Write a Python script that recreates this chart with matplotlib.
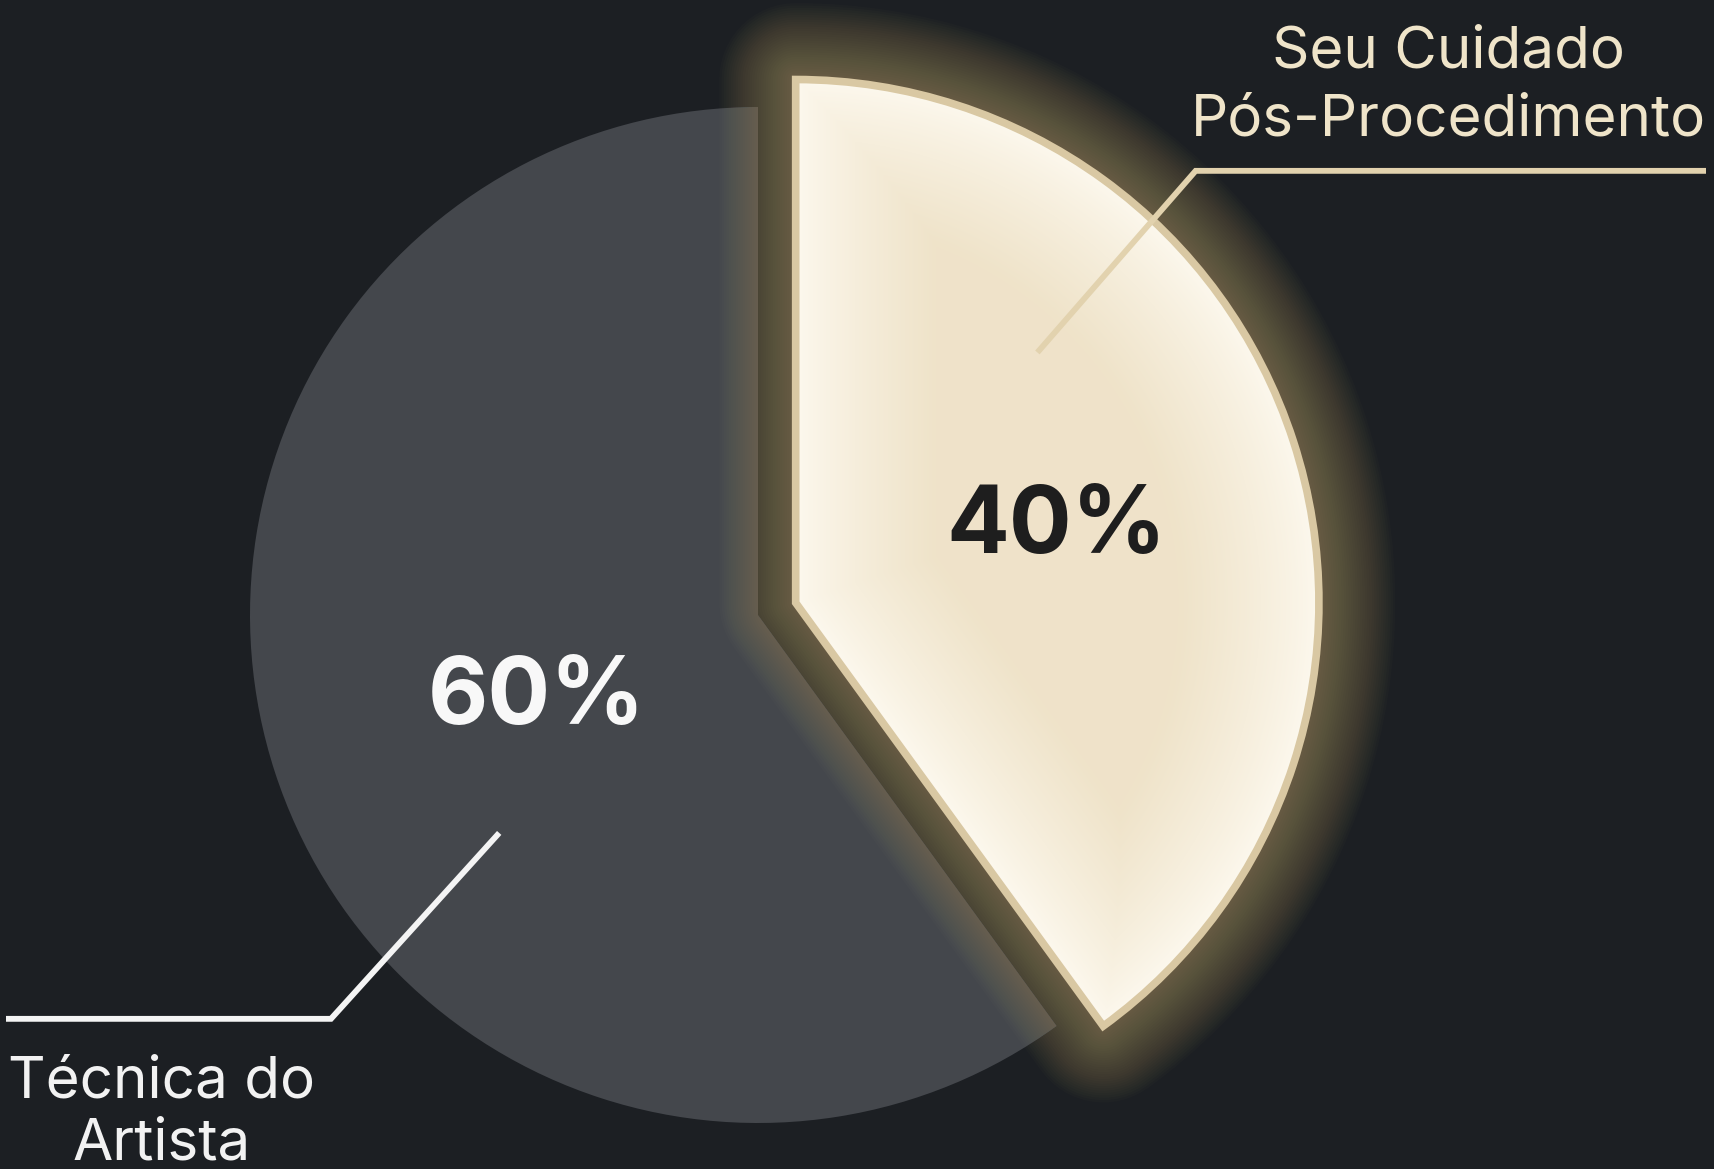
import numpy as np
import matplotlib.pyplot as plt
from matplotlib.patches import Wedge
from matplotlib.colors import to_rgb

# data
labels = ['Seu Cuidado\nPós-Procedimento', 'Técnica do\nArtista']
shares = [40, 60]
pct_labels = ['40%', '60%']

W, H = 1714, 1169
bg = '#1c1f23'
plt.rcParams['font.family'] = ['Inter', 'DejaVu Sans']

fig = plt.figure(figsize=(W / 100, H / 100), dpi=100, facecolor=bg)
ax = fig.add_axes([0, 0, 1, 1])
ax.set_facecolor(bg)

R = 508
center = (758, H - 615)
# explode is in data units here (pixels)
wedges, _ = ax.pie(shares, radius=R, center=center, startangle=90,
                   counterclock=False, explode=[0.078 * R, 0],
                   colors=['#efe2c7', '#44474c'],
                   wedgeprops=dict(linewidth=0))

light, dark = wedges
dark.set_zorder(1)
light.set_radius(R * 1.03)
light.set_zorder(3)
c0, r0, t1, t2 = light.center, light.r, light.theta1, light.theta2

# outer glow round the light slice, soft falloff
for w in np.linspace(110, 6, 32):
    ax.add_patch(Wedge(c0, r0, t1, t2, facecolor='none', edgecolor='#bca678',
                       linewidth=w, alpha=0.023, zorder=2, joinstyle='round'))

# fill: bright rim fading to beige in the middle (distance to the slice border)
x0, x1 = c0[0] - 10, c0[0] + r0 + 10
y0, y1 = c0[1] - r0 - 10, c0[1] + r0 + 10
gx, gy = np.meshgrid(np.arange(x0, x1), np.arange(y0, y1))
px, py = gx - c0[0], gy - c0[1]
dist = r0 - np.hypot(px, py)
for th in (t1, t2):
    ux, uy = np.cos(np.radians(th)), np.sin(np.radians(th))
    along = px * ux + py * uy
    perp = np.abs(px * uy - py * ux)
    d_edge = np.where(along > 0, perp, np.hypot(px, py))
    dist = np.minimum(dist, d_edge)
k = np.clip(dist / 140.0, 0, 1) ** 0.8
rim, mid = np.array(to_rgb('#fdf9ef')), np.array(to_rgb('#efe3c9'))
img = rim[None, None, :] * (1 - k[..., None]) + mid[None, None, :] * k[..., None]
im = ax.imshow(img, extent=(x0, x1, y0, y1), origin='lower', zorder=3.1,
               interpolation='bilinear')
im.set_clip_path(light)

ax.add_patch(Wedge(c0, r0, t1, t2, facecolor='none', edgecolor='#d9c8a3',
                   linewidth=5.5, zorder=3.2, joinstyle='miter'))

ax.set_xlim(0, W)
ax.set_ylim(0, H)
ax.set_aspect('auto')
ax.axis('off')


def polar(c, r, ang):
    a = np.radians(ang)
    return c[0] + r * np.cos(a), c[1] + r * np.sin(a)


fs_pct = 67
cap_pct = 0.727 * fs_pct * 100 / 72
fs_lab = 42

# percentage labels
pct_pos = [(c0, r0 * 0.523, 17.8, '#1e1e1e'), (center, R * 0.461, 198.7, '#f8f8f8')]
for txt, (c, r, a, col) in zip(pct_labels, pct_pos):
    x, y = polar(c, r, a)
    ax.text(x, y - cap_pct / 2, txt, ha='center', va='baseline', fontsize=fs_pct,
            fontweight='bold', color=col, zorder=5)

# leader lines and category labels
leaders = [
    dict(c=c0, a_in=46.0, r_in=r0 * 0.665, a_out=47.2, r_out=r0 * 1.125, x_end=W - 8,
         col='#e2d2ae', tx=1448, base=[H - 67, H - 135], tcol='#efe4c9'),
    dict(c=center, a_in=220.1, r_in=R * 0.666, a_out=223.4, r_out=R * 1.157, x_end=6,
         col='#f4f4f4', tx=162, base=[H - 1097, H - 1160], tcol='#f2f2f2'),
]
for lab, d in zip(labels, leaders):
    xi, yi = polar(d['c'], d['r_in'], d['a_in'])
    xo, yo = polar(d['c'], d['r_out'], d['a_out'])
    ax.plot([xi, xo, d['x_end']], [yi, yo, yo], color=d['col'], lw=4.2,
            solid_joinstyle='miter', solid_capstyle='butt', zorder=6)
    for line, b in zip(lab.split('\n'), d['base']):
        ax.text(d['tx'], b, line, ha='center', va='baseline', fontsize=fs_lab,
                color=d['tcol'], zorder=6)

fig.savefig('out.png', dpi=100, facecolor=bg)
